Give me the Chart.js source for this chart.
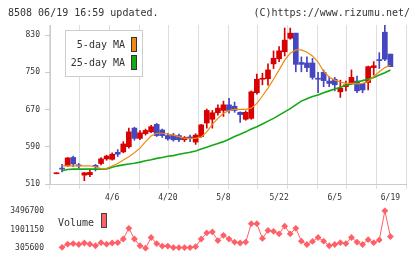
<!DOCTYPE html>
<html><head><meta charset="utf-8">
<script src="https://cdn.jsdelivr.net/npm/chart.js@4/dist/chart.umd.min.js"></script>
<style>
html,body{margin:0;padding:0;background:#fff;width:420px;height:259px;overflow:hidden}
#wrap{position:relative;width:420px;height:259px}
#c1{position:absolute;left:0;top:0}
#c2{position:absolute;left:0;top:200px}
</style></head><body>
<div id="wrap">
<canvas id="c1" width="420" height="205"></canvas>
<canvas id="c2" width="420" height="59"></canvas>
</div>
<script>
// ---- data ----
const dates = ["3/23","3/24","3/25","3/26","3/27","3/30","3/31","4/1","4/2","4/3",
  "4/6","4/7","4/8","4/9","4/10","4/13","4/14","4/15","4/16","4/17",
  "4/20","4/21","4/22","4/23","4/24","4/27","4/28","4/30","5/1","5/7",
  "5/8","5/11","5/12","5/13","5/14","5/15","5/18","5/19","5/20","5/21",
  "5/22","5/25","5/26","5/27","5/28","5/29","6/1","6/2","6/3","6/4",
  "6/5","6/8","6/9","6/10","6/11","6/12","6/15","6/16","6/17","6/18","6/19"];
const tickDates = ["4/6","4/20","5/8","5/22","6/5","6/19"];
const priceTicks = [510,590,670,750,830];
const volumeTicks = [305600,1901150,3496700];

const opens  = [532,544,549,567,550,529,530,550,554,564, 563,578,579,590,630,608,618,622,638,626,
                614,615,614,605,610,600,612,641,649,663, 668,680,677,664,649,651,706,735,736,768,
                779,794,823,834,771,770,770,737,750,731, 735,708,719,725,731,726,728,760,777,836,789];
const highs  = [534,552,567,570,554,535,542,552,567,572, 577,584,601,630,632,625,628,636,640,628,
                619,619,617,612,615,618,638,671,668,680, 688,694,686,665,667,710,746,748,768,796,
                805,845,845,834,783,783,780,750,755,740, 739,733,731,755,742,726,763,773,792,851,789];
const lows   = [532,536,548,547,544,517,526,538,551,561, 561,569,577,587,604,605,615,620,612,610,
                604,602,601,601,601,595,610,630,630,658, 655,662,664,642,647,649,703,723,722,758,
                773,785,821,751,751,751,735,706,719,719, 710,696,710,725,706,706,712,744,758,775,762];
const closes = [534,542,566,553,549,534,535,547,564,570, 574,574,596,622,608,620,625,633,614,614,
                607,605,605,610,609,615,637,668,663,673, 680,668,668,659,664,708,735,737,755,780,
                796,819,834,767,767,760,739,735,732,726, 723,716,723,739,710,712,762,764,775,778,762];
const ma5  = [null,549,549,549,549,549,549,547,543,543.5, 548.7,554,561.5,568.6,577,587,601,613,619,619,
              617,615,611.6,608,608,608,611,622,638,651, 662,667.5,670.4,670.4,670.4,673,683,699,716,735,
              755,776,791,798,798,793,785,772,752,740, 733,729,726,726,725,726,730,741,751,760,765];
const ma25 = [null,538.6,541,542,542,542,542,542,542,542.5, 546,549,551,553,554.5,557,560,562,565,567,
              569.5,571,574,576,578,581,585,589,593,597, 601,606,612,617,622,628,633,639,645,651,
              658,665,672,680,688,693,698,701,706,710, 714,718,722,725,729,732,735,739,744,749,755];
const volumes = [null,384000,645100,697600,619200,750000,645100,514700,776000,645100,
  750000,776000,1089600,2004500,1089600,514700,305600,1220500,697600,488700,
  488700,357900,357900,357900,357900,436300,1089600,1612500,1690900,958700,
  1403200,1089600,828300,750000,828300,2396300,2396300,1142100,1821100,1742700,
  1534100,2187200,1534100,2004500,906600,619200,880300,1220500,906600,514700,
  619200,776000,697600,1220500,828300,619200,1037100,776000,1011200,3496700,1298900];

// ---- styling ----
const RED = '#d80000', BLUE = '#4646c0', ORANGE = '#ee8a12', GREEN = '#14a814', VOLC = '#ff5f66';
const TXT = '#333';
const SMALL = {family: '"DejaVu Sans Mono", monospace', size: 8};
const XMIN = -1.17, XMAX = 62.8;

const candleColors = closes.map((c, i) => c >= opens[i] ? RED : BLUE);
const wickData = dates.map((d, i) => ({x: i, y: [lows[i], highs[i]]}));
const bodyData = dates.map((d, i) => ({x: i, y: [opens[i], closes[i]]}));
const ma5Data = dates.map((d, i) => ({x: i, y: ma5[i]}));
const ma25Data = dates.map((d, i) => ({x: i, y: ma25[i]}));
const volData = dates.map((d, i) => ({x: i, y: volumes[i]}));

const overlay = {
  id: 'overlay',
  afterDraw(chart) {
    const ctx = chart.ctx;
    ctx.save();
    ctx.font = '10px "DejaVu Sans Mono", monospace';
    ctx.fillStyle = TXT;
    ctx.textBaseline = 'alphabetic';
    ctx.textAlign = 'left';
    ctx.fillText('8508 06/19 16:59 updated.', 8, 16);
    ctx.textAlign = 'right';
    ctx.fillText('(C)https://www.rizumu.net/', 410, 16);
    // legend box
    ctx.fillStyle = '#fff';
    ctx.fillRect(65.5, 30.5, 77, 46);
    ctx.strokeStyle = '#cccccc';
    ctx.lineWidth = 1;
    ctx.strokeRect(65.5, 30.5, 77, 46);
    ctx.fillStyle = TXT;
    ctx.fillText('5-day MA', 125, 47.5);
    ctx.fillText('25-day MA', 125, 65.5);
    ctx.strokeStyle = '#333';
    ctx.fillStyle = ORANGE;
    ctx.fillRect(131.5, 37.5, 5, 14); ctx.strokeRect(131.5, 37.5, 5, 14);
    ctx.fillStyle = GREEN;
    ctx.fillRect(131.5, 55.5, 5, 14); ctx.strokeRect(131.5, 55.5, 5, 14);
    ctx.restore();
  }
};

new Chart(document.getElementById('c1'), {
  type: 'bar',
  data: {
    datasets: [
      {type: 'line', label: '5-day MA', data: ma5Data, borderColor: ORANGE, borderWidth: 1.2,
       pointRadius: 0, tension: 0, order: 0, xAxisID: 'x', yAxisID: 'y'},
      {type: 'line', label: '25-day MA', data: ma25Data, borderColor: GREEN, borderWidth: 1.6,
       pointRadius: 0, tension: 0, order: 0, xAxisID: 'x', yAxisID: 'y'},
      {label: 'wick', data: wickData, backgroundColor: candleColors, barThickness: 1,
       grouped: false, order: 2, xAxisID: 'x', yAxisID: 'y', borderWidth: 0},
      {label: 'body', data: bodyData, backgroundColor: candleColors, barThickness: 5,
       minBarLength: 1, grouped: false, order: 1, xAxisID: 'x', yAxisID: 'y', borderWidth: 0}
    ]
  },
  options: {
    responsive: false, animation: false, devicePixelRatio: 1, events: [],
    layout: {padding: {left: 0, right: 14, top: 25, bottom: 0}},
    plugins: {legend: {display: false}, tooltip: {enabled: false}},
    scales: {
      xg: {type: 'linear', position: 'bottom', min: 0, max: 11, weight: 0,
        ticks: {display: false, stepSize: 1},
        grid: {color: '#dedede', tickLength: 5, drawTicks: true},
        border: {color: '#cccccc'},
        afterFit(s) { s.height = 5; }},
      x: {type: 'linear', position: 'bottom', min: XMIN, max: XMAX, offset: false, weight: 1,
        grid: {display: false, drawTicks: false}, border: {display: false},
        afterBuildTicks(s) { s.ticks = tickDates.map(d => ({value: dates.indexOf(d)})); },
        ticks: {font: SMALL, color: TXT, padding: 4, maxRotation: 0, autoSkip: false,
          callback: v => dates[v]},
        afterFit(s) { s.height = 16; }},
      y: {type: 'linear', position: 'left', min: 510, max: 851.5,
        afterBuildTicks(s) { s.ticks = priceTicks.map(v => ({value: v})); },
        ticks: {font: SMALL, color: TXT, padding: 5, callback: v => String(v)},
        grid: {drawOnChartArea: false, tickLength: 5, color: '#cccccc'},
        border: {color: '#cccccc'},
        afterFit(s) { s.width = 50; }}
    }
  },
  plugins: [overlay]
});

const volLegend = {
  id: 'volLegend',
  afterDraw(chart) {
    const ctx = chart.ctx;
    ctx.save();
    ctx.font = '10px "DejaVu Sans Mono", monospace';
    ctx.fillStyle = TXT;
    ctx.textAlign = 'left';
    ctx.fillText('Volume', 58, 26);
    ctx.fillStyle = VOLC;
    ctx.strokeStyle = '#444';
    ctx.lineWidth = 1;
    ctx.fillRect(101.5, 13.5, 5, 14); ctx.strokeRect(101.5, 13.5, 5, 14);
    ctx.restore();
  }
};

new Chart(document.getElementById('c2'), {
  type: 'line',
  data: {datasets: [{label: 'Volume', data: volData, borderColor: VOLC, backgroundColor: VOLC,
    borderWidth: 1, pointStyle: 'rectRot', pointRadius: 3.4, pointBorderWidth: 0,
    tension: 0, clip: false}]},
  options: {
    responsive: false, animation: false, devicePixelRatio: 1, events: [],
    layout: {padding: {left: 0, right: 14, top: 9, bottom: 10}},
    plugins: {legend: {display: false}, tooltip: {enabled: false}},
    scales: {
      x: {type: 'linear', min: XMIN, max: XMAX, display: false},
      y: {type: 'linear', position: 'left', min: 305600, max: 3496700,
        afterBuildTicks(s) { s.ticks = volumeTicks.map(v => ({value: v})); },
        ticks: {font: SMALL, color: TXT, padding: 6, callback: v => String(v)},
        grid: {display: false, drawTicks: false}, border: {display: false},
        afterFit(s) { s.width = 50; }}
    }
  },
  plugins: [volLegend]
});
</script>
</body></html>
